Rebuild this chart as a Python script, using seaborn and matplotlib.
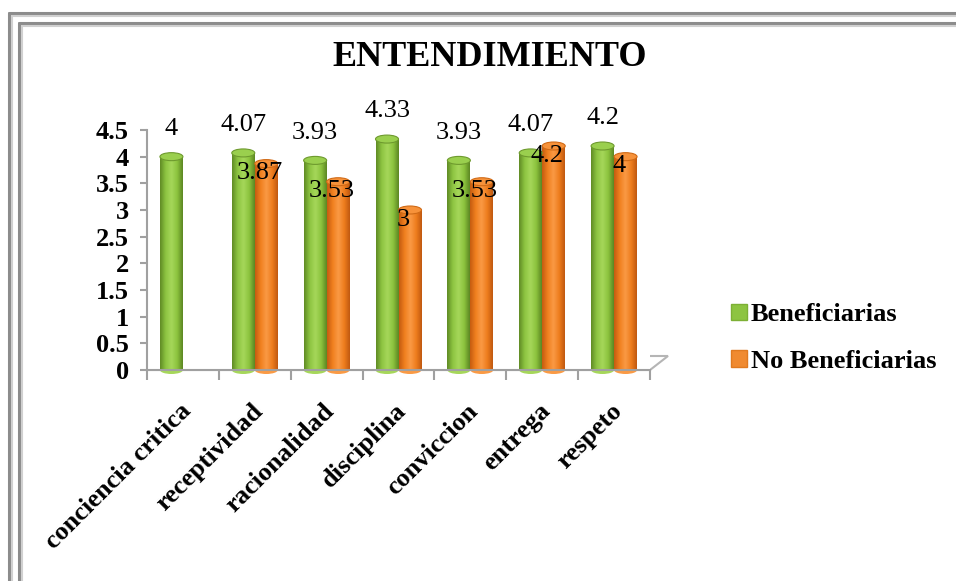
import numpy as np
import pandas as pd
import matplotlib
matplotlib.use("Agg")
import matplotlib.pyplot as plt
import matplotlib.transforms as mtransforms
from matplotlib.patches import Ellipse, Polygon, Patch
from matplotlib.lines import Line2D
from matplotlib.colors import LinearSegmentedColormap, to_rgba
import seaborn as sns

# ---------------- data ----------------
categorias = ["conciencia critica", "receptividad", "racionalidad", "disciplina",
              "conviccion", "entrega", "respeto"]
beneficiarias = [4, 4.07, 3.93, 4.33, 3.93, 4.07, 4.2]
no_beneficiarias = [np.nan, 3.87, 3.53, 3, 3.53, 4.2, 4]
series = ["Beneficiarias", "No Beneficiarias"]
y_ticks = [0, 0.5, 1, 1.5, 2, 2.5, 3, 3.5, 4, 4.5]
titulo = "ENTENDIMIENTO"

# ---------------- style ----------------
sns.set_style("white")
plt.rcParams["font.family"] = ["Liberation Serif", "DejaVu Serif"]
plt.rcParams["text.color"] = "black"
plt.rcParams["xtick.color"] = "black"
plt.rcParams["ytick.color"] = "black"

GREEN = "#8CC43F"
ORANGE = "#F2801F"
green_cmap = LinearSegmentedColormap.from_list(
    "g", ["#5F8A24", "#8DC441", "#A6D75A", "#8CC33E", "#5B8522"])
orange_cmap = LinearSegmentedColormap.from_list(
    "o", ["#C45B10", "#F0801F", "#FA9A45", "#EE7D1D", "#BF5810"])

df = pd.DataFrame({
    "categoria": categorias * 2,
    "valor": beneficiarias + no_beneficiarias,
    "grupo": [series[0]] * len(categorias) + [series[1]] * len(categorias),
})

W, H = 956, 581
fig = plt.figure(figsize=(W / 100, H / 100), dpi=100)
fig.patch.set_facecolor("white")


def fx(px):
    return px / W


def fy(py):
    return 1 - py / H


ax = fig.add_axes([fx(147), fy(370), fx(650) - fx(147), fy(130) - fy(370)])

sns.barplot(data=df, x="categoria", y="valor", hue="grupo",
            palette=[GREEN, ORANGE], saturation=1, width=0.64, ax=ax,
            legend=False, order=categorias, hue_order=series)

ax.set_ylim(0, 4.5)
ax.set_xlim(-0.5, len(categorias) - 0.5)
ax.set_xlabel("")
ax.set_ylabel("")

# ---------------- cylinder shading ----------------
grad = np.linspace(0, 1, 256).reshape(1, -1)
ell_h = 0.15
g_rgb = np.array(to_rgba(GREEN)[:3])
o_rgb = np.array(to_rgba(ORANGE)[:3])
bars = [p for p in ax.patches if p.get_height() > 0]
for p in bars:
    x, w, h = p.get_x(), p.get_width(), p.get_height()
    fc = np.array(to_rgba(p.get_facecolor())[:3])
    is_green = np.sum((fc - g_rgb) ** 2) < np.sum((fc - o_rgb) ** 2)
    cmap = green_cmap if is_green else orange_cmap
    top_col = "#9ACF4E" if is_green else "#F7923A"
    edge_col = "#6E9A2E" if is_green else "#D06A16"
    p.set_edgecolor("none")
    p.set_zorder(2)
    # bottom cap
    ax.add_patch(Ellipse((x + w / 2, 0), w, ell_h, facecolor=cmap(0.5),
                         edgecolor="none", zorder=1.9, clip_on=False))
    im = ax.imshow(grad, extent=[x, x + w, 0, h], aspect="auto", cmap=cmap,
                   zorder=2.1, interpolation="bicubic")
    im.set_clip_path(p)
    # top cap
    ax.add_patch(Ellipse((x + w / 2, h), w, ell_h, facecolor=top_col,
                         edgecolor=edge_col, linewidth=0.8, zorder=2.2,
                         clip_on=False))
    # value labels
    val = f"{h:g}"
    if is_green:
        ax.annotate(val, (x + w / 2, h), xytext=(0, 20), textcoords="offset points",
                    ha="center", va="center", fontsize=19, color="black",
                    annotation_clip=False, zorder=5)
    else:
        ax.annotate(val, (x + w / 2, h), xytext=(-5, -7), textcoords="offset points",
                    ha="center", va="center", fontsize=19, color="black",
                    annotation_clip=False, zorder=5)

ax.set_ylim(0, 4.5)
ax.set_xlim(-0.5, len(categorias) - 0.5)

# ---------------- axes styling ----------------
for s in ["top", "right"]:
    ax.spines[s].set_visible(False)
for s in ["left", "bottom"]:
    ax.spines[s].set_color("#A0A0A0")
    ax.spines[s].set_linewidth(1.5)

ax.set_yticks(y_ticks)
ax.set_yticklabels([f"{t:g}" for t in y_ticks], fontsize=19, fontweight="bold")
ax.tick_params(axis="y", length=5, width=1.5, color="#A0A0A0", pad=8,
               direction="out", left=True, labelcolor="black")

ax.set_xticks(range(len(categorias)))
ax.set_xticklabels(categorias, fontsize=19, fontweight="bold", rotation=45,
                   ha="right", va="top", rotation_mode="anchor")
ax.tick_params(axis="x", which="major", length=0, pad=21, labelcolor="black")
ax.set_xticks(np.arange(-0.5, len(categorias), 1.0), minor=True)
ax.tick_params(axis="x", which="minor", length=7, width=1.5, color="#A0A0A0",
               direction="out", bottom=True)
shift = mtransforms.ScaledTranslation(-4 / 100, 0, fig.dpi_scale_trans)
for lab in ax.get_xticklabels():
    lab.set_transform(lab.get_transform() + shift)

# 3D floor outline
floor = Polygon([(fx(147), fy(370)), (fx(650), fy(370)), (fx(668), fy(356)),
                 (fx(163), fy(356))], closed=True, transform=fig.transFigure,
                fill=False, edgecolor="#B5B5B5", linewidth=1.5, zorder=0)
fig.add_artist(floor)

# ---------------- title ----------------
fig.text(fx(490), fy(58), titulo, fontsize=26, fontweight="bold",
         ha="center", va="center", color="black")

# ---------------- legend ----------------
handles = [Patch(facecolor="#8DC441", edgecolor="#7DB035"),
           Patch(facecolor="#F08A30", edgecolor="#E07A20")]
leg = fig.legend(handles, series, loc="center left",
                 bbox_to_anchor=(fx(731), fy(338)), frameon=False,
                 prop={"size": 19, "weight": "bold"}, handlelength=0.6,
                 handleheight=0.6, handletextpad=0.15, labelspacing=0.88,
                 borderaxespad=0, borderpad=0)
for t in leg.get_texts():
    t.set_color("black")

# ---------------- outer frame ----------------
for off, col, lw in [(9, "#8C8C8C", 2.2), (19, "#8C8C8C", 2.2)]:
    fig.add_artist(Line2D([fx(off), fx(W)], [fy(off + 4), fy(off + 4)],
                          transform=fig.transFigure, color=col, linewidth=lw))
    fig.add_artist(Line2D([fx(off), fx(off)], [fy(off + 4), fy(H)],
                          transform=fig.transFigure, color=col, linewidth=lw))
for off in [12, 22]:
    fig.add_artist(Line2D([fx(off), fx(W)], [fy(off + 4), fy(off + 4)],
                          transform=fig.transFigure, color="#D0D0D0", linewidth=1.5))
    fig.add_artist(Line2D([fx(off), fx(off)], [fy(off + 4), fy(H)],
                          transform=fig.transFigure, color="#D0D0D0", linewidth=1.5))

fig.savefig("out.png", dpi=100, facecolor="white")
